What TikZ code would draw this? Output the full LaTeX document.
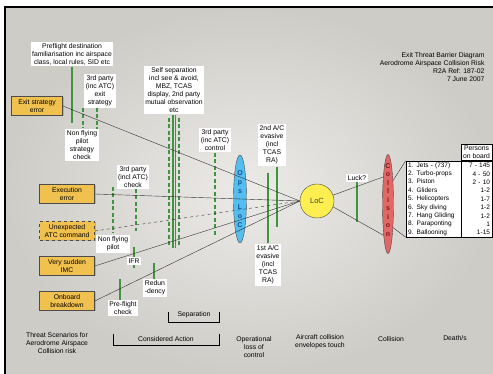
\documentclass[tikz,border=0pt]{standalone}
\usepackage{fontspec}
\setmainfont{Liberation Sans}
\usetikzlibrary{shapes.geometric,shadows}
\definecolor{slidegray}{RGB}{223,221,216}
\definecolor{slideedge}{RGB}{206,204,199}
\definecolor{threatgold}{RGB}{240,193,78}
\definecolor{bargreen}{RGB}{64,148,64}
\definecolor{opsblue}{RGB}{84,190,238}
\definecolor{opstext}{RGB}{20,80,150}
\definecolor{locyellow}{RGB}{255,238,80}
\definecolor{collred}{RGB}{226,104,104}
\definecolor{colltext}{RGB}{130,20,20}

\begin{document}
\begin{tikzpicture}[x=1pt,y=-1pt]
    \tikzstyle{every node}=[font=\fontsize{6.8}{8}\selectfont]
    \tikzstyle{barrier}=[fill=white, inner sep=1.5pt, align=center]
    \tikzstyle{threat}=[draw=black!70, fill=threatgold, semithick, minimum width=55pt,
                        minimum height=19pt, inner sep=1pt, align=center,
                        drop shadow={shadow xshift=1pt, shadow yshift=-1pt, opacity=.4}]
    \tikzstyle{bar}=[draw=bargreen, line width=1.6pt]
    \tikzstyle{dashbar}=[bar, dash pattern=on 4pt off 2.5pt]
    \tikzstyle{threatline}=[draw=black!80, thin]
    \tikzstyle{caption}=[align=center]

    % Slide background
    \useasboundingbox (0,0) rectangle (493,374);
    \fill[white] (0,0) rectangle (493,374);
    \shade[inner color=slidegray!60!white, outer color=slideedge] (5,7) rectangle (493,374);
    \draw[line width=1.5pt] (5,374) -- (5,7) -- (493,7);

    % Title
    \node[align=right, anchor=north east] (title) at (488,49)
        {Exit Threat Barrier Diagram\\Aerodrome Airspace Collision Risk\\R2A Ref: 187-02\\7 June 2007};

    % Barrier bars
    \draw[bar] (72,67) -- (72,123);
    \draw[dashbar] (83,108) -- (83,128);
    \draw[dashbar] (97,108) -- (97,132);
    \draw[dashbar] (169,118) -- (169,248);
    \draw[bar] (173,115) -- (173,248);
    \draw[bar] (175.5,115) -- (175.5,248);
    \draw[dashbar] (179,118) -- (179,248);
    \draw[dashbar] (215,153) -- (215,235);
    \draw[dashbar] (113,187) -- (113,233);
    \draw[dashbar] (136,189) -- (136,231);
    \draw[bar] (134,247) -- (134,268);
    \draw[bar] (154,263) -- (154,280);
    \draw[bar] (120,279) -- (120,300);
    \draw[bar] (277,167) -- (277,227);
    \draw[bar] (268,173) -- (268,243);
    \draw[bar] (357,179) -- (357,222);

    % Barrier labels
    \node[barrier] (pre) at (72,54) {Preflight destination\\familiarisation inc airspace\\class, local rules, SID etc};
    \node[barrier] (exitatc) at (100,91) {3rd party\\(inc ATC)\\exit\\strategy};
    \node[barrier] (nfpsc) at (82,145) {Non flying\\pilot\\strategy\\check};
    \node[barrier] (selfsep) at (174,90) {Self separation\\incl see \& avoid,\\MBZ, TCAS\\display, 2nd party\\mutual observation\\etc};
    \node[barrier] (atcctrl) at (215,140) {3rd party\\(inc ATC)\\control};
    \node[barrier] (atcchk) at (133,177) {3rd party\\(incl ATC)\\check};
    \node[barrier] (nfp) at (113,244) {Non flying\\pilot};
    \node[barrier] (ifr) at (134,261) {IFR};
    \node[barrier] (redun) at (155,288) {Redun\\-dency};
    \node[barrier] (prechk) at (123,308) {Pre-flight\\check};
    \node[barrier] (acb) at (272,145) {2nd A/C\\evasive\\(incl\\TCAS\\RA)};
    \node[barrier] (aca) at (268,265) {1st A/C\\evasive\\(incl\\TCAS\\RA)};
    \node[barrier] (luck) at (357,178) {Luck?};

    % Threats
    \node[threat, minimum width=51pt] (exiterr) at (37,106) {Exit strategy\\error};
    \node[threat] (execerr) at (67,194) {Execution\\error};
    \node[threat, dashed] (unexp) at (67,231) {Unexpected\\ATC command};
    \node[threat] (imc) at (67,266) {Very sudden\\IMC};
    \node[threat] (onboard) at (67,301) {Onboard\\breakdown};

    % Top event and consequences
    \node[ellipse, draw=black!70, fill=opsblue, minimum width=13pt, minimum height=88pt, inner sep=0pt] (ops) at (240,199) {};
    \node[align=center, text=opstext, font=\fontsize{7}{9}\selectfont\bfseries] at (ops) {O\\p\\s\\[7pt]L\\o\\C};
    \node[circle, draw=black!70, fill=locyellow, minimum size=34pt, inner sep=0pt,
          font=\fontsize{7.5}{8}\selectfont, text=black!75] (loc) at (317,201) {LoC};
    \node[ellipse, draw=black!70, fill=collred, minimum width=11pt, minimum height=99pt, inner sep=0pt] (coll) at (388,204) {};
    \node[align=center, text=colltext, font=\fontsize{7}{8.5}\selectfont\bfseries] at (388,200) {C\\o\\l\\l\\i\\s\\i\\o\\n};

    % Threat lines
    \draw[threatline] (exiterr.east) -- (loc.west);
    \draw[threatline] (execerr.east) -- (loc.west);
    \draw[threatline, dashed] (unexp.east) -- (loc.west);
    \draw[threatline] (imc.east) -- (loc.west);
    \draw[threatline] (onboard.east) -- (loc.west);
    \draw[threatline] (loc.20) -- (coll.100);
    \draw[threatline] (loc.-20) -- (coll.262);

    % Consequence table
    \node[draw, fill=white, text width=51pt, minimum height=76pt, inner xsep=2pt, inner ysep=1pt,
          align=left, font=\fontsize{6.5}{8.4}\selectfont] (types) at (433.5,199)
        {1. Jets - (737)\\2. Turbo-props\\3. Piston\\4. Gliders\\5. Helicopters\\6. Sky diving\\7. Hang Gliding\\8. Paraponting\\9. Ballooning};
    \node[draw, fill=white, text width=27pt, minimum height=76pt, inner xsep=2pt, inner ysep=1pt,
          align=right, font=\fontsize{6.5}{8.4}\selectfont] (persons) at (476.5,199)
        {7 - 145\\4 - 50\\2 - 10\\1-2\\1-7\\1-2\\1-2\\1\\1-15};
    \node[draw, fill=white, minimum width=31pt, minimum height=16pt, inner sep=0.5pt, align=center] (header) at (476.5,152) {Persons\\on board};
    \draw[threatline] (coll.78) -- (types.north west);
    \draw[threatline] (coll.-78) -- (types.south west);

    % Brackets
    \draw[thin] (168,312) -- (168,322) -- (219,322) -- (219,312);
    \node (sep) at (194,315) {Separation};
    \draw[thin] (113,334) -- (113,345) -- (219,345) -- (219,334);
    \node (consid) at (166,339) {Considered Action};

    % Bottom captions
    \node[caption] (threatcap) at (57,343) {Threat Scenarios for\\Aerodrome Airspace\\Collision risk};
    \node[caption] (opscap) at (254,347) {Operational\\loss of\\control};
    \node[caption] (loccap) at (320,342) {Aircraft collision\\envelopes touch};
    \node[caption] (collcap) at (391,339) {Collision};
    \node[caption] (deathcap) at (455,338) {Death/s};
\end{tikzpicture}
\end{document}
